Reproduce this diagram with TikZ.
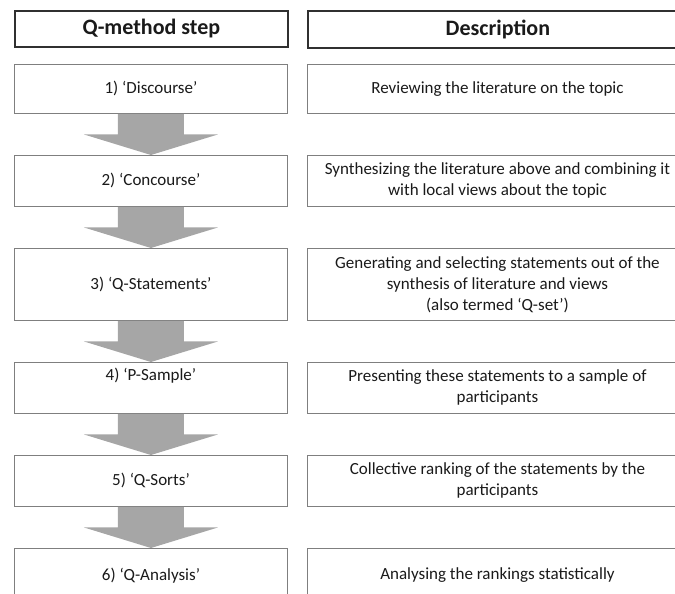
\documentclass[tikz,border=0pt]{standalone}
\usepackage{fontspec}
\setmainfont{Carlito}
\usetikzlibrary{calc}
\definecolor{boxline}{HTML}{7F7F7F}
\definecolor{headline}{HTML}{303030}
\definecolor{arrowgray}{HTML}{A6A6A6}
\definecolor{txtcol}{HTML}{1A1A1A}
\tikzset{
  headbox/.style={draw=headline, line width=1.8pt, fill=white, inner sep=0pt, anchor=north west,
    font=\fontsize{22}{26}\selectfont\bfseries, text=txtcol},
  stepbox/.style={draw=boxline, line width=0.9pt, fill=white, inner sep=0pt, anchor=north west,
    font=\fontsize{17}{21}\selectfont, align=center, text=txtcol},
  leftbox/.style={stepbox, minimum width=273pt},
  rightbox/.style={stepbox, minimum width=380pt},
  flowarrow/.style={fill=arrowgray, draw=none}
}
\begin{document}
\begin{tikzpicture}[x=1pt,y=-1pt]
\useasboundingbox (0,0) rectangle (675,594);
\clip (0,0) rectangle (675,594);
% headers
\node[headbox, minimum width=273pt, minimum height=36pt] (hl) at (14,10) {Q-method step};
\node[headbox, minimum width=380pt, minimum height=37pt] (hr) at (307,10) {Description};
% left column
\node[leftbox, minimum height=49pt] (L1) at (14,64)  {1) ‘Discourse’};
\node[leftbox, minimum height=51pt] (L2) at (14,155) {2) ‘Concourse’};
\node[leftbox, minimum height=72pt] (L3) at (14,248) {3) ‘Q-Statements’};
\node[leftbox, minimum height=51pt] (L4) at (14,362) {4) ‘P-Sample’\\ \strut};
\node[leftbox, minimum height=51pt] (L5) at (14,455) {5) ‘Q-Sorts’};
\node[leftbox, minimum height=54pt] (L6) at (14,548) {6) ‘Q-Analysis’};
% right column
\node[rightbox, minimum height=49pt] (R1) at (307,64)  {Reviewing the literature on the topic};
\node[rightbox, minimum height=51pt] (R2) at (307,155) {Synthesizing the literature above and combining it\\with local views about the topic};
\node[rightbox, minimum height=72pt] (R3) at (307,248) {Generating and selecting statements out of the\\synthesis of literature and views\\(also termed ‘Q-set’)};
\node[rightbox, minimum height=51pt] (R4) at (307,362) {Presenting these statements to a sample of\\participants};
\node[rightbox, minimum height=51pt] (R5) at (307,455) {Collective ranking of the statements by the\\participants};
\node[rightbox, minimum height=54pt] (R6) at (307,548) {Analysing the rankings statistically};
% arrows
\foreach \a/\b in {L1/L2, L2/L3, L3/L4, L4/L5, L5/L6}{
  \coordinate (m) at ($(\a.south)!0.5!(\b.north)$);
  \fill[flowarrow] ($(\a.south)+(-33,0)$) -- ($(m)+(-33,0)$) -- ($(m)+(-67,0)$)
     -- (\b.north) -- ($(m)+(67,0)$) -- ($(m)+(33,0)$) -- ($(\a.south)+(33,0)$) -- cycle;
}
\end{tikzpicture}
\end{document}
